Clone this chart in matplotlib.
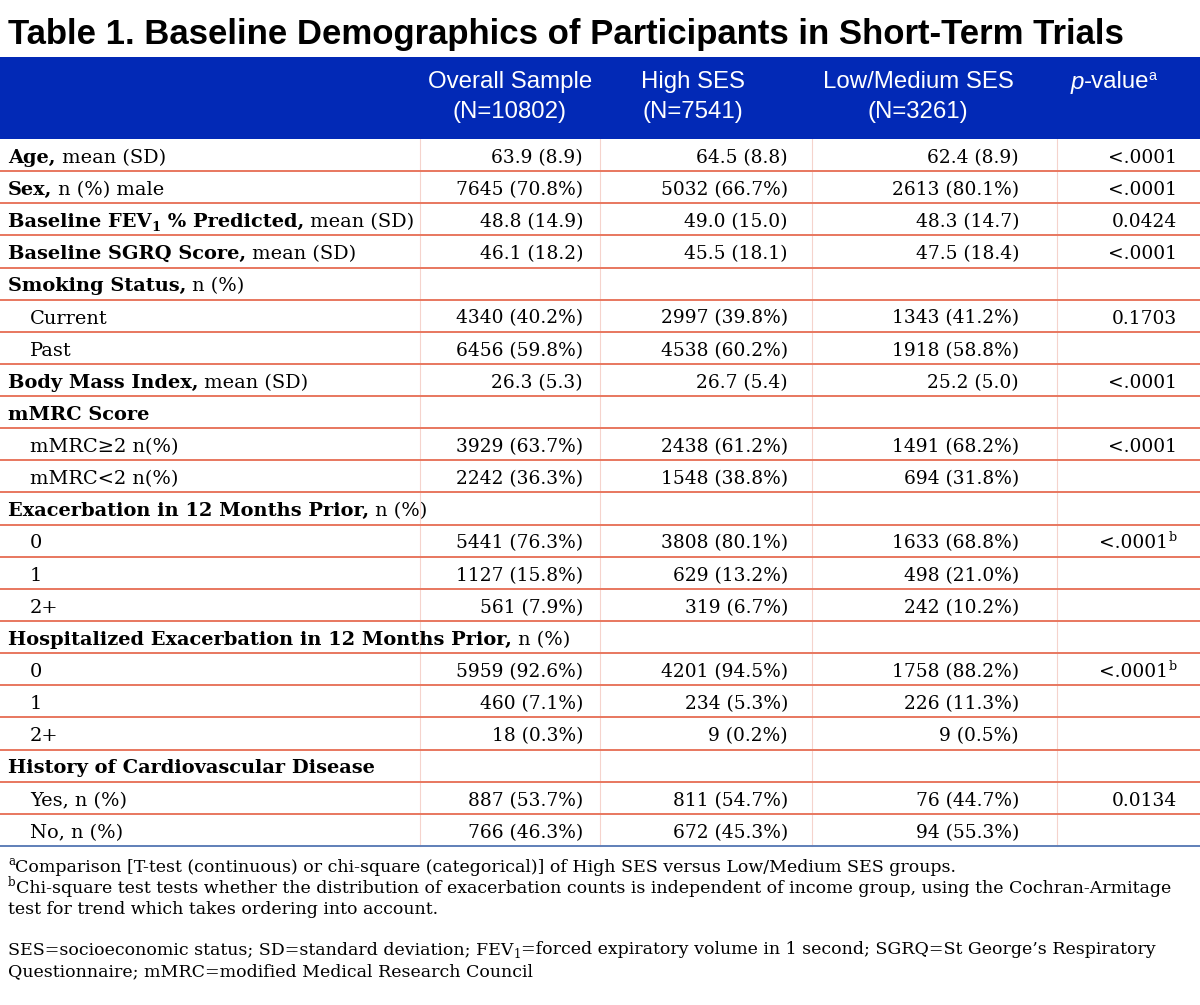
import matplotlib
matplotlib.use("Agg")
import matplotlib.pyplot as plt
from matplotlib.patches import Rectangle

# ---- table content ----
title = "Table 1. Baseline Demographics of Participants in Short-Term Trials"
col_heads = [("Overall Sample", "(N=10802)"), ("High SES", "(N=7541)"),
             ("Low/Medium SES", "(N=3261)")]

label_bold = ["Age,", "Sex,", "Baseline FEV|1| % Predicted,", "Baseline SGRQ Score,",
              "Smoking Status,", "", "", "Body Mass Index,", "mMRC Score", "", "",
              "Exacerbation in 12 Months Prior,", "", "", "",
              "Hospitalized Exacerbation in 12 Months Prior,", "", "", "",
              "History of Cardiovascular Disease", "", ""]
label_plain = [" mean (SD)", " n (%) male", " mean (SD)", " mean (SD)", " n (%)",
               "Current", "Past", " mean (SD)", "", "mMRC\u22652 n(%)", "mMRC<2 n(%)",
               " n (%)", "0", "1", "2+", " n (%)", "0", "1", "2+", "",
               "Yes, n (%)", "No, n (%)"]

overall = ["63.9 (8.9)", "7645 (70.8%)", "48.8 (14.9)", "46.1 (18.2)", "",
           "4340 (40.2%)", "6456 (59.8%)", "26.3 (5.3)", "", "3929 (63.7%)",
           "2242 (36.3%)", "", "5441 (76.3%)", "1127 (15.8%)", "561 (7.9%)", "",
           "5959 (92.6%)", "460 (7.1%)", "18 (0.3%)", "", "887 (53.7%)", "766 (46.3%)"]
high = ["64.5 (8.8)", "5032 (66.7%)", "49.0 (15.0)", "45.5 (18.1)", "",
        "2997 (39.8%)", "4538 (60.2%)", "26.7 (5.4)", "", "2438 (61.2%)",
        "1548 (38.8%)", "", "3808 (80.1%)", "629 (13.2%)", "319 (6.7%)", "",
        "4201 (94.5%)", "234 (5.3%)", "9 (0.2%)", "", "811 (54.7%)", "672 (45.3%)"]
low = ["62.4 (8.9)", "2613 (80.1%)", "48.3 (14.7)", "47.5 (18.4)", "",
       "1343 (41.2%)", "1918 (58.8%)", "25.2 (5.0)", "", "1491 (68.2%)",
       "694 (31.8%)", "", "1633 (68.8%)", "498 (21.0%)", "242 (10.2%)", "",
       "1758 (88.2%)", "226 (11.3%)", "9 (0.5%)", "", "76 (44.7%)", "94 (55.3%)"]
pval = ["<.0001", "<.0001", "0.0424", "<.0001", "", "0.1703", "", "<.0001", "",
        "<.0001", "", "", "<.0001", "", "", "", "<.0001", "", "", "", "0.0134", ""]
pnote = ["", "", "", "", "", "", "", "", "", "", "", "", "b", "", "", "", "b",
         "", "", "", "", ""]

footnotes = [
    [("a", "sup"), ("Comparison [T-test (continuous) or chi-square (categorical)] of High SES versus Low/Medium SES groups.", "n")],
    [("b", "sup"), ("Chi-square test tests whether the distribution of exacerbation counts is independent of income group, using the Cochran-Armitage", "n")],
    [("test for trend which takes ordering into account.", "n")],
    None,
    [("SES=socioeconomic status; SD=standard deviation; FEV", "n"), ("1", "sub"),
     ("=forced expiratory volume in 1 second; SGRQ=St George\u2019s Respiratory", "n")],
    [("Questionnaire; mMRC=modified Medical Research Council", "n")],
]

SERIF = "DejaVu Serif"
SANS = "Liberation Sans"
BLUE = "#0229b6"
RULE = "#e8775f"

W, H = 1200, 1005
fig = plt.figure(figsize=(12, 10.05), dpi=100)
ax = fig.add_axes([0, 0, 1, 1])
ax.set_xlim(0, W)
ax.set_ylim(H, 0)
ax.axis("off")
rend = fig.canvas.get_renderer()
PX = 100 / 72


def wpx(t):
    return t.get_window_extent(rend).width


def fit(s, target, family, weight="normal"):
    t = ax.text(0, 0, s, fontsize=20, family=family, weight=weight)
    w = wpx(t)
    t.remove()
    return 20 * target / w


def run(x, y, parts, size, family=SERIF, color="k"):
    # parts: (text, weight, kind) drawn left to right on one baseline
    for txt, weight, kind in parts:
        fs, dy = size, 0
        if kind == "sub":
            fs, dy = size * 0.68, size * 0.22 * PX
        elif kind == "sup":
            fs, dy = size * 0.68, -size * 0.38 * PX
        t = ax.text(x, y + dy, txt, fontsize=fs, family=family, weight=weight,
                    color=color, va="baseline", ha="left")
        x = x + wpx(t)
    return x


# title
ts = fit(title, 1117, SANS, "bold")
ax.text(8, 31, title, fontsize=ts, family=SANS, weight="bold", va="center_baseline")

# header band
top, bot = 57, 139
ax.add_patch(Rectangle((0, top), W, bot - top, color=BLUE, lw=0))
hs = fit("Overall Sample", 164, SANS)
head_x = [510, 693, 918]
for cx, (l1, l2) in zip(head_x, col_heads):
    ax.text(cx, 82, l1, fontsize=hs, family=SANS, color="white", ha="center", va="center")
    ax.text(cx, 112, l2, fontsize=hs, family=SANS, color="white", ha="center", va="center")
tp = ax.text(0, 0, "p", fontsize=hs, family=SANS, style="italic")
tv = ax.text(0, 0, "-value", fontsize=hs, family=SANS)
pw = wpx(tp) + wpx(tv)
tp.remove()
tv.remove()
px0 = 1110 - pw / 2
tp = ax.text(px0, 82, "p", fontsize=hs, family=SANS, style="italic", color="white", va="center")
ax.text(px0 + wpx(tp), 82, "-value", fontsize=hs, family=SANS, color="white", va="center")
ax.text(px0 + pw - 1, 76, "a", fontsize=hs * 0.6, family=SANS, color="white", va="center")

# body rows
n = len(overall)
rh = (846 - bot) / n
bs = fit("2613 (80.1%)", 127, SERIF)
ls = bs * 1.04
cap = 0.73 * bs * PX
col_right = [583, 788, 1019]
for i in range(n):
    yb = bot + rh * (i + 0.5) + cap / 2 + 1
    if label_bold[i]:
        parts = []
        for j, seg in enumerate(label_bold[i].split("|")):
            parts.append((seg, "bold", "sub" if j % 2 else "n"))
        if label_plain[i]:
            parts.append((label_plain[i], "normal", "n"))
        run(8, yb, parts, ls)
    else:
        run(30, yb, [(label_plain[i], "normal", "n")], ls)
    for xr, col in zip(col_right, (overall, high, low)):
        ax.text(xr, yb, col[i], fontsize=bs, family=SERIF, ha="right", va="baseline")
    if pval[i]:
        xr = 1177
        if pnote[i]:
            t = ax.text(xr, yb - bs * 0.38 * PX, pnote[i], fontsize=bs * 0.68,
                        family=SERIF, ha="right", va="baseline")
            xr -= wpx(t) + 1
        ax.text(xr, yb, pval[i], fontsize=bs, family=SERIF, ha="right", va="baseline")

# rules
for k in range(1, n):
    y = bot + rh * k
    ax.plot([0, W], [y, y], color=RULE, lw=1.4, solid_capstyle="butt")
ax.plot([0, W], [846, 846], color="#5f7fb8", lw=1.4)
for xv in [420, 600, 812, 1057]:
    ax.plot([xv, xv], [bot, 846], color="#f5d3cc", lw=0.8, zorder=0)

# footnotes
fs = fit("Chi-square test tests whether the distribution of exacerbation counts is "
         "independent of income group, using the Cochran-Armitage", 1150, SERIF)
fy = [872, 893, 914, None, 954, 976]
for y, line in zip(fy, footnotes):
    if line is None:
        continue
    run(8, y, [(t, "normal", k) for t, k in line], fs)

fig.savefig("out.png", dpi=100)
